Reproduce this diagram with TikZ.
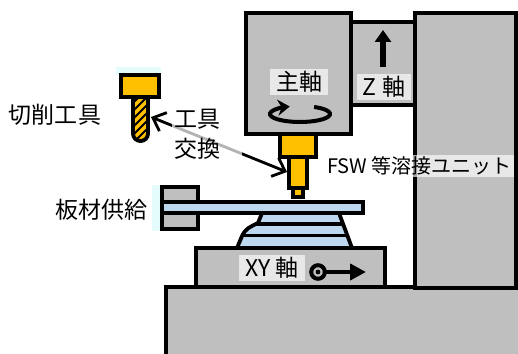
\documentclass[tikz,border=0pt]{standalone}
\usepackage{fontspec}
\setmainfont{Noto Sans CJK JP}
\usetikzlibrary{arrows.meta}

\definecolor{partgray}{RGB}{191,191,191}
\definecolor{toolyellow}{RGB}{255,192,0}
\definecolor{plateblue}{RGB}{189,215,238}
\definecolor{edgecyan}{RGB}{228,252,252}

\begin{document}
\begin{tikzpicture}[x=0.5pt,y=-0.5pt,>/.tip={Straight Barb[length=5.5pt,width=10pt]},
	part/.style={draw,line width=1.9pt,fill=partgray},
	yel/.style={draw,line width=1.9pt,fill=toolyellow},
	blu/.style={draw,line width=1.9pt,fill=plateblue},
	lbl/.style={font=\fontsize{11.5}{15}\selectfont,inner sep=1pt},
	tag/.style={lbl,fill=white,fill opacity=0.65,text opacity=1,inner xsep=3pt}]
	\useasboundingbox (0,0) rectangle (518,353);

	% frame, column and Z slide
	\draw[part] (166,287) rectangle (524,358);
	\draw[part] (415,13) rectangle (516,288);
	\draw[part] (351,22) rectangle (415,105);
	\draw[line width=2.6pt,-{Triangle[length=6pt,width=8pt]}] (383,67) -- (383,30);
	\node (zlbl) [tag] at (384,87) {Z 軸};

	% welding unit under the spindle
	\draw[yel] (293,186) rectangle (303,197);
	\draw[yel] (289,155) rectangle (307,188);
	\draw[yel] (280,134) rectangle (316,157);
	\coordinate (unitend) at (287,172);

	% spindle head
	\draw[part] (246,13) rectangle (351,134);
	\node (spindle) [tag] at (299,82) {主軸};
	\draw[line width=2pt,-{Stealth[length=6pt,width=8pt]}] (300,114) ++(62:15pt and 4pt)
		arc[start angle=62,end angle=-250,x radius=15pt,y radius=4pt];

	% cutting tool
	\fill[edgecyan] (116,67) rectangle (161,75);
	\draw[yel] (121,75) rectangle (159,97);
	\begin{scope}
		\clip (148,97) -- (133,97) [rounded corners=3.7pt] -- (133,141) -- (148,141) [sharp corners] -- cycle;
		\fill[toolyellow] (130,95) rectangle (150,145);
		\foreach \k in {100,108,...,164}
			\draw[line width=0.9pt] (128,\k) -- ++(24,-24);
	\end{scope}
	\draw[line width=1.9pt] (148,97) -- (133,97) [rounded corners=3.7pt] -- (133,141) -- (148,141) [sharp corners] -- cycle;
	\coordinate (cutend) at (151,117);
	\node (cutlbl) [lbl] at (55,115) {切削工具};

	% tool change
	\draw[line width=1.4pt,<->] (cutend) -- (unitend);
	\node (change) [lbl,anchor=west,text width=33pt,align=left,fill=white,fill opacity=0.7,text opacity=1] at (172,134) {工具\\交換};

	% plate feed
	\fill[edgecyan] (152,185) rectangle (162,231);
	\draw[part] (162,187) rectangle (198,229);
	\path[blu] (262,213) -- (258,223) .. controls (250,227) and (246,228) .. (242,236) -- (237,248) -- (352,248) -- (339,213) -- cycle;
	\begin{scope}
		\clip (262,213) -- (258,223) .. controls (250,227) and (246,228) .. (242,236) -- (237,248) -- (352,248) -- (339,213) -- cycle;
		\draw[line width=1.9pt] (230,224) -- (360,224);
		\draw[line width=1.9pt] (230,235.5) -- (360,235.5);
	\end{scope}
	\draw[blu] (162,202) rectangle (363,213);
	\node (feed) [lbl] at (101,210) {板材供給};

	% XY table
	\draw[part] (196,248) rectangle (385,287);
	\node (xylbl) [tag] at (272,268) {XY 軸};
	\draw[line width=2pt] (318,272) circle[radius=3.4pt];
	\fill (318,272) circle[radius=1.2pt];
	\draw[line width=2.4pt,-{Triangle[length=8pt,width=8pt]}] (325,272) -- (366,272);

	\node (unit) [lbl,font=\fontsize{10}{12}\selectfont,fill=white,fill opacity=0.65,text opacity=1,anchor=east] at (514,166) {FSW 等溶接ユニット};
\end{tikzpicture}
\end{document}
